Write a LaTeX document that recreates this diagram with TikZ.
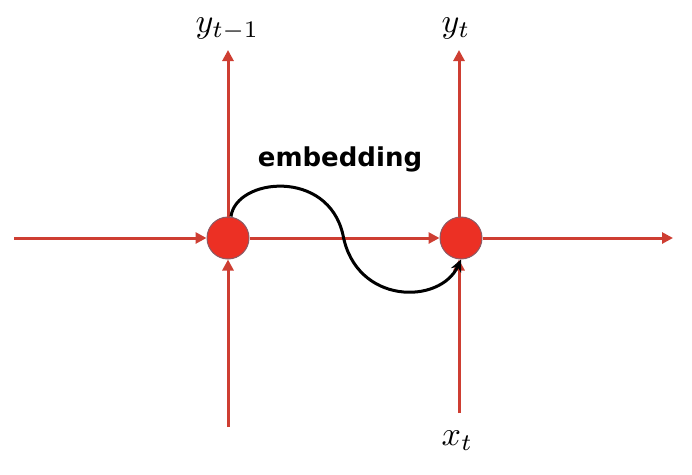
\documentclass[tikz,border=0pt]{standalone}
\usepackage{fontspec}
\newfontfamily\labfont{DejaVu Sans}
\usetikzlibrary{arrows.meta}
\definecolor{redline}{RGB}{206,62,50}
\definecolor{dotfill}{RGB}{236,48,36}
\definecolor{dotedge}{RGB}{140,90,100}
\tikzset{
  redarrow/.style={draw=redline, line width=3pt, -{Triangle[length=11pt,width=11pt]}},
  dot/.style={circle, fill=dotfill, draw=dotedge, line width=1pt, minimum size=42pt, inner sep=0pt},
  lab/.style={scale=3.4, inner sep=0pt, anchor=base west},
}
\begin{document}
\begin{tikzpicture}[x=1pt,y=-1pt]
\useasboundingbox (0,0) rectangle (692,474);
\coordinate (lstart) at (14,238);
\coordinate (rend) at (673,238);
\coordinate (top1) at (228,50);
\coordinate (top2) at (459,50);
\coordinate (bot1) at (228,427);
\coordinate (bot2) at (459,413);
\node[dot] (c1) at (228,238) {};
\node[dot] (c2) at (461,238) {};
\draw[redarrow] (lstart) -- (c1.west);
\draw[redarrow] (c1.east) -- (c2.west);
\draw[redarrow] (c2.east) -- (rend);
\draw[redarrow] (c1.north) -- (top1);
\draw[redarrow] (c2.north -| top2) -- (top2);
\draw[redarrow] (bot1) -- (c1.south);
\draw[redarrow] (bot2) -- (c2.south -| bot2);
\node[lab] (y1) at (195,32) {$y_{t-1}$};
\node[lab] (y2) at (441,32) {$y_t$};
\node[lab] (x2) at (441,445) {$x_t$};
\node[font=\labfont\bfseries\fontsize{26}{30}\selectfont, anchor=base] (emb) at (340,166) {embedding};
\draw[line width=3pt, -{Stealth[length=12pt,width=11pt]}]
  (c1.north) ++(3,0) .. controls (236,178) and (328,168) .. (343,235)
  .. controls (356,305) and (440,305) .. (c2.south);
\end{tikzpicture}
\end{document}
